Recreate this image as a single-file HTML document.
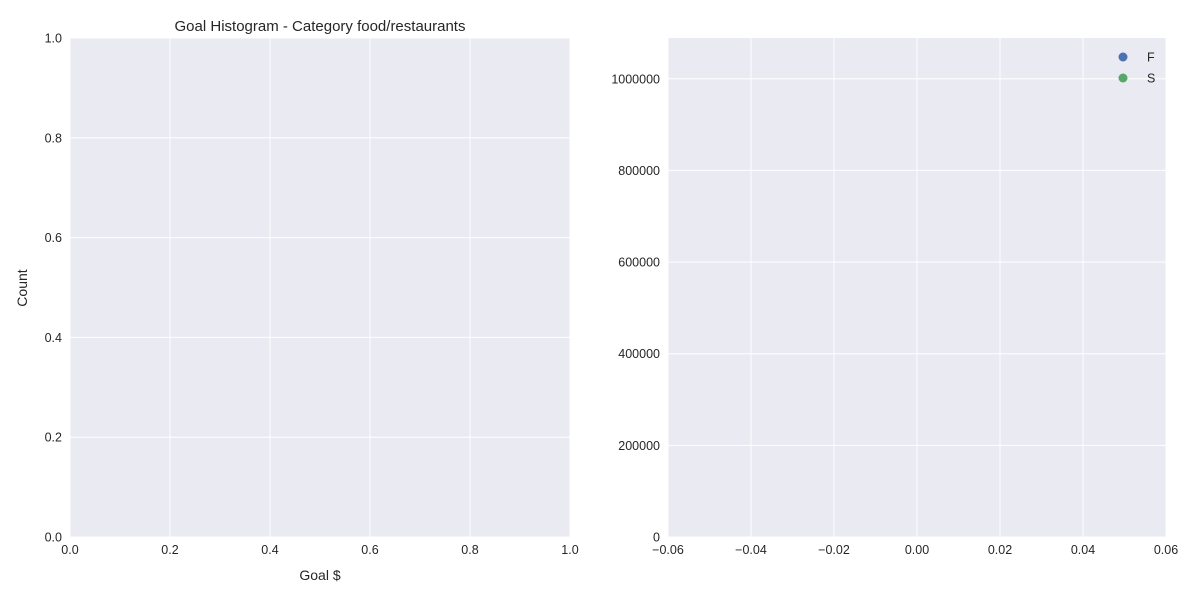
<!DOCTYPE html>
<html><head><meta charset="utf-8"><style>
body{margin:0;background:#fff;font-family:"Liberation Sans","DejaVu Sans",sans-serif;}
svg text{font-family:"Liberation Sans","DejaVu Sans",sans-serif;fill:#262626;}
</style></head><body>
<svg id="chart" width="1200" height="600"></svg>
<script>
const leftXTicks=[0.0,0.2,0.4,0.6,0.8,1.0];
const leftYTicks=[0.0,0.2,0.4,0.6,0.8,1.0];
const leftCounts=[];
const rightXTicks=[-0.06,-0.04,-0.02,0.00,0.02,0.04,0.06];
const rightYTicks=[0,200000,400000,600000,800000,1000000];
const seriesF=[];
const seriesS=[];
const legendLabels=["F","S"];
const legendColors=["#4c72b0","#55a868"];

const NS="http://www.w3.org/2000/svg";
const svg=document.getElementById('chart');
function mk(t,a,p){const e=document.createElementNS(NS,t);for(const k in a)e.setAttribute(k,a[k]);(p||svg).appendChild(e);return e;}

// left axes
const L={x0:70,x1:570,y0:537,y1:38};
const lx=v=>L.x0+(v-0)/(1-0)*(L.x1-L.x0);
const ly=v=>L.y0-(v-0)/(1-0)*(L.y0-L.y1);
const lbg=mk('rect',{x:L.x0,y:L.y1,width:L.x1-L.x0,height:L.y0-L.y1,fill:'#eaeaf2'});


leftXTicks.forEach(v=>{
  const g=mk('line',{x1:lx(v),x2:lx(v),y1:L.y1,y2:L.y0,stroke:'#fff','stroke-width':1});
  
  
  const t=mk('text',{x:lx(v),y:L.y0+17,'font-size':12.5,'text-anchor':'middle'});t.textContent=v.toFixed(1);
  
  
});
leftYTicks.forEach(v=>{
  const g=mk('line',{x1:L.x0,x2:L.x1,y1:ly(v),y2:ly(v),stroke:'#fff','stroke-width':1});
  
  
  const t=mk('text',{x:L.x0-8,y:ly(v)+4.5,'font-size':12.5,'text-anchor':'end'});t.textContent=v.toFixed(1);
  
  
});
let t=mk('text',{x:320,y:31,'font-size':15,'text-anchor':'middle'});t.textContent='Goal Histogram - Category food/restaurants';


t=mk('text',{x:320,y:580,'font-size':14,'text-anchor':'middle'});t.textContent='Goal $';


t=mk('text',{x:27,y:288,'font-size':14,'text-anchor':'middle',transform:'rotate(-90 27 288)'});t.textContent='Count';



// right axes
const R={x0:668,x1:1166,y0:537,y1:38,xmin:-0.06,xmax:0.06,ymax:1089000};
const rx=v=>R.x0+(v-R.xmin)/(R.xmax-R.xmin)*(R.x1-R.x0);
const ry=v=>R.y0-v/R.ymax*(R.y0-R.y1);
const rbg=mk('rect',{x:R.x0,y:R.y1,width:R.x1-R.x0,height:R.y0-R.y1,fill:'#eaeaf2'});


rightXTicks.forEach(v=>{
  const g=mk('line',{x1:rx(v),x2:rx(v),y1:R.y1,y2:R.y0,stroke:'#fff','stroke-width':1});
  
  
  const t=mk('text',{x:rx(v),y:R.y0+17,'font-size':12.5,'text-anchor':'middle'});
  t.textContent=(v<0?'\u2212':'')+Math.abs(v).toFixed(2);
  
  
});
rightYTicks.forEach(v=>{
  const g=mk('line',{x1:R.x0,x2:R.x1,y1:ry(v),y2:ry(v),stroke:'#fff','stroke-width':1});
  
  
  const t=mk('text',{x:R.x0-8,y:ry(v)+4.5,'font-size':12.5,'text-anchor':'end'});t.textContent=String(v);
  
  
});
[seriesF,seriesS].forEach((s,i)=>s.forEach(p=>{
  const c=mk('circle',{cx:rx(p[0]),cy:ry(p[1]),r:4,fill:legendColors[i]});
  
  
}));
legendLabels.forEach((lab,i)=>{
  const y=57+i*21;
  const c=mk('circle',{cx:1123,cy:y,r:4.5,fill:legendColors[i]});
  
  
  const t=mk('text',{x:1147,y:y+4.5,'font-size':12.5});t.textContent=lab;
  
  
});
</script>
</body></html>
